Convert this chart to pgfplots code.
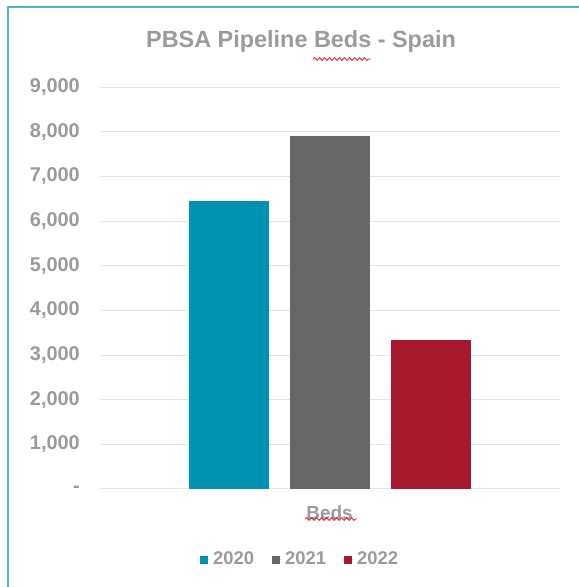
\documentclass[border=0pt]{standalone}
\usepackage{fontspec}
\setmainfont{Liberation Sans}
\usepackage{pgfplots}
\pgfplotsset{compat=1.18}
\usetikzlibrary{decorations.pathmorphing}
\definecolor{c2020}{RGB}{0,146,176}
\definecolor{c2021}{RGB}{103,103,103}
\definecolor{c2022}{RGB}{166,24,45}
\definecolor{txt}{RGB}{155,155,155}
\definecolor{gridc}{RGB}{228,228,228}
\definecolor{framec}{RGB}{86,176,200}
\definecolor{spell}{RGB}{222,40,50}
\begin{document}
\begin{tikzpicture}[x=1bp,y=1bp]
\path[use as bounding box, fill=white] (0,0) rectangle (579,587);
\draw[framec, line width=2bp] (8,0) -- (8,580) -- (579,580);
\begin{axis}[
  at={(100bp,98bp)}, anchor=south west,
  scale only axis, width=460bp, height=401.7bp,
  xmin=-1.2723, xmax=3.2822, ymin=0, ymax=9000,
  axis line style={draw=none}, tick style={draw=none},
  ymajorgrids, major grid style={gridc, line width=1bp},
  ytick={0,1000,2000,3000,4000,5000,6000,7000,8000,9000},
  yticklabels={{-\hspace{12bp}},{1,000},{2,000},{3,000},{4,000},{5,000},{6,000},{7,000},{8,000},{9,000}},
  yticklabel style={anchor=east, inner sep=0pt, xshift=-20bp, font=\fontsize{20}{24}\selectfont\bfseries, text=txt},
  xtick={1}, xticklabels={Beds},
  xticklabel style={anchor=base, inner sep=0pt, yshift=-31bp, font=\fontsize{19}{23}\selectfont\bfseries, text=txt},
  title={PBSA Pipeline Beds - Spain},
  title style={at={(0.437,1.0854)}, anchor=base, inner sep=0pt, font=\fontsize{23.5}{28}\selectfont\bfseries, text=txt},
  legend columns=-1,
  legend image code/.code={\fill[#1] (0bp,-5bp) rectangle (8bp,3bp); \path (0bp,0bp) -- (11bp,0bp);},
  legend style={at={(0.4348,-0.1743)}, anchor=center, draw=none, fill=none,
    font=\fontsize{18.5}{22}\selectfont\bfseries, text=txt,
    nodes={inner sep=2bp},
    /tikz/every even column/.append style={column sep=16bp}},
]
\addplot[ybar, bar width=0.792, bar shift=0pt, fill=c2020, draw=none] coordinates {(0,6450)};
\addlegendentry{2020}
\addplot[ybar, bar width=0.792, bar shift=0pt, fill=c2021, draw=none] coordinates {(1,7900)};
\addlegendentry{2021}
\addplot[ybar, bar width=0.792, bar shift=0pt, fill=c2022, draw=none] coordinates {(2,3340)};
\addlegendentry{2022}
\end{axis}
\draw[spell, line width=0.9bp, decorate, decoration={snake, amplitude=1.4bp, segment length=5bp}] (313,528) -- (371,528);
\draw[spell, line width=0.9bp, decorate, decoration={snake, amplitude=1.4bp, segment length=5bp}] (305,68) -- (357,68);
\end{tikzpicture}
\end{document}
